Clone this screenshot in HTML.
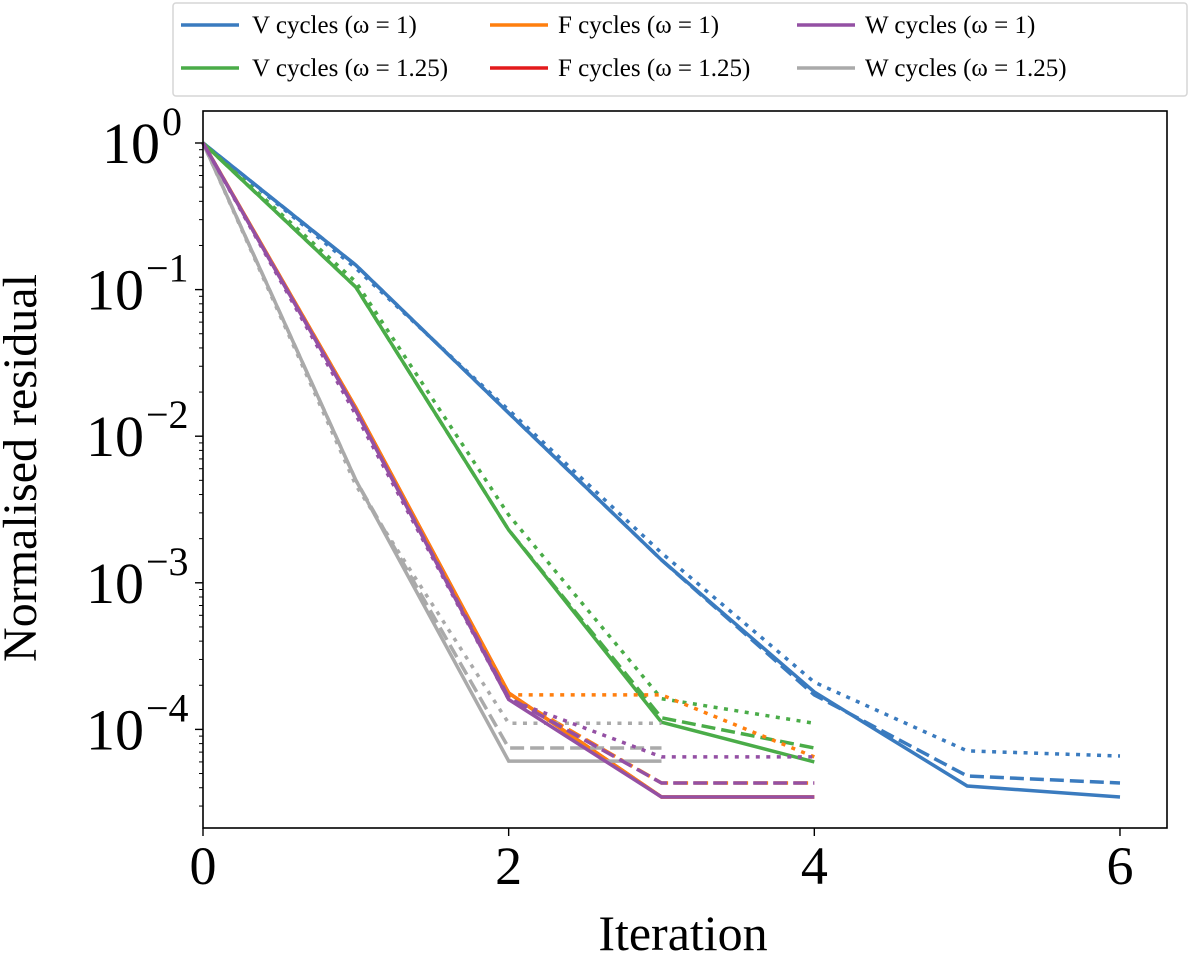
<!DOCTYPE html>
<html><head><meta charset="utf-8"><style>
body{margin:0;background:#fff;}
svg text{font-family:"Liberation Serif","DejaVu Serif",serif;fill:#000;}
</style></head><body>
<svg id="chart" width="1200" height="952" viewBox="0 0 1200 952">
<g id="plot"></g>
</svg>
<script>
const iterations=[0,1,2,3,4,5,6];
const vW1=[1,0.147,0.0144,0.00143,1.8e-4,4.11e-5,3.46e-5];
const vW1dash=[1,0.147,0.0144,0.00143,1.72e-4,4.81e-5,4.31e-5];
const vW1dot=[1,0.140,0.0151,0.0016,2.1e-4,7.13e-5,6.58e-5];
const vW125=[1,0.104,0.00229,1.12e-4,6.0e-5];
const vW125dash=[1,0.104,0.00229,1.2e-4,7.47e-5];
const vW125dot=[1,0.113,0.0029,1.62e-4,1.1e-4];
const fW1=[1,0.0156,1.77e-4,3.46e-5,3.46e-5];
const fW1dash=[1,0.0156,1.72e-4,4.31e-5,4.31e-5];
const fW1dot=[1,0.0156,1.72e-4,1.72e-4,6.49e-5];
const fW125=[1,0.0156,1.77e-4,3.46e-5,3.46e-5];
const wW1=[1,0.0150,1.6e-4,3.46e-5,3.46e-5];
const wW1dash=[1,0.0150,1.65e-4,4.31e-5,4.31e-5];
const wW1dot=[1,0.0140,1.6e-4,6.49e-5,6.49e-5];
const wW125=[1,0.00502,6.08e-5,6.08e-5];
const wW125dash=[1,0.00502,7.47e-5,7.47e-5];
const wW125dot=[1,0.00463,1.1e-4,1.1e-4];
const xTicks=[0,2,4,6];
const yTicks=[0,-1,-2,-3,-4];
const legendLabels=["V cycles (ω = 1)","V cycles (ω = 1.25)","F cycles (ω = 1)","F cycles (ω = 1.25)","W cycles (ω = 1)","W cycles (ω = 1.25)"];

const NS="http://www.w3.org/2000/svg";
const L=203,R=1167,T=111,B=828;
const xs=v=>203+v*152.83;
const ys=v=>143-146.6*Math.log10(v);
const g=document.getElementById('plot');
function mk(tag,a,p){const e=document.createElementNS(NS,tag);for(const k in a)e.setAttribute(k,a[k]);(p||g).appendChild(e);return e;}
const C={blue:"#3a7bbf",green:"#4aac48",orange:"#ff7f0e",red:"#e31a1c",purple:"#9450a4",gray:"#aaaaaa"};
const series=[
 [fW125,C.red,""],
 [vW1,C.blue,""],[vW1dash,C.blue,"14 6"],[vW1dot,C.blue,"4 6.5"],
 [vW125,C.green,""],[vW125dash,C.green,"14 6"],[vW125dot,C.green,"4 6.5"],
 [fW1,C.orange,""],[fW1dash,C.orange,"14 6"],[fW1dot,C.orange,"4 6.5"],
 [wW125,C.gray,""],[wW125dash,C.gray,"14 6"],[wW125dot,C.gray,"4 6.5"],
 [wW1,C.purple,""],[wW1dash,C.purple,"14 6"],[wW1dot,C.purple,"4 6.5"]
];
series.forEach((s,i)=>{
 const d=s[0].map((v,j)=>(j?"L":"M")+xs(iterations[j]).toFixed(1)+","+ys(v).toFixed(1)).join("");
 const p=mk('path',{d:d,fill:"none",stroke:s[1],"stroke-width":3.5,"stroke-dasharray":s[2]});
 
 
});
const fr=mk('rect',{x:L,y:T,width:R-L,height:B-T,fill:"none",stroke:"#000","stroke-width":1.6});


xTicks.forEach(t=>{
 mk('line',{x1:xs(t),x2:xs(t),y1:B,y2:B+8,stroke:"#000","stroke-width":1.4});
 const tx=mk('text',{x:xs(t),y:B+56,"text-anchor":"middle","font-size":54});
 tx.textContent=t;
 
 
});
yTicks.forEach(e=>{
 const y=ys(Math.pow(10,e));
 mk('line',{x1:L-8,x2:L,y1:y,y2:y,stroke:"#000","stroke-width":1.4});
 const tx=mk('text',{x:e===0?160:144,y:y+20,"text-anchor":"end","font-size":58});
 tx.textContent="10";
 
 
 const sp=mk('text',{x:e===0?162:146,y:y-8,"text-anchor":"start","font-size":40});
 sp.textContent=e===0?"0":"−"+(-e);
 for(let k=2;k<10;k++){const yy=ys(k*Math.pow(10,e-1));if(yy>T&&yy<B)mk('line',{x1:L-4,x2:L,y1:yy,y2:yy,stroke:"#000","stroke-width":1});}
});
const xl=mk('text',{x:683,y:950,"text-anchor":"middle","font-size":50});
xl.textContent="Iteration";


const yl=mk('text',{x:0,y:0,"text-anchor":"middle","font-size":48,transform:"translate(36,468) rotate(-90)"});
yl.textContent="Normalised residual";


const lg=mk('g',{});


mk('rect',{x:173,y:3,width:1014,height:93,rx:3,fill:"#fff",stroke:"#d6d6d6","stroke-width":1.5},lg);
const lcols=[[181,252],[490,558],[797,865]];
const lcolors=[C.blue,C.green,C.orange,C.red,C.purple,C.gray];
legendLabels.forEach((lab,i)=>{
 const c=lcols[Math.floor(i/2)],y=i%2?68:25;
 mk('line',{x1:c[0],x2:c[0]+58,y1:y,y2:y,stroke:lcolors[i],"stroke-width":3.5},lg);
 const t=mk('text',{x:c[1],y:y+8,"font-size":25},lg);
 t.textContent=lab;
 
 
});
</script>
</body></html>
